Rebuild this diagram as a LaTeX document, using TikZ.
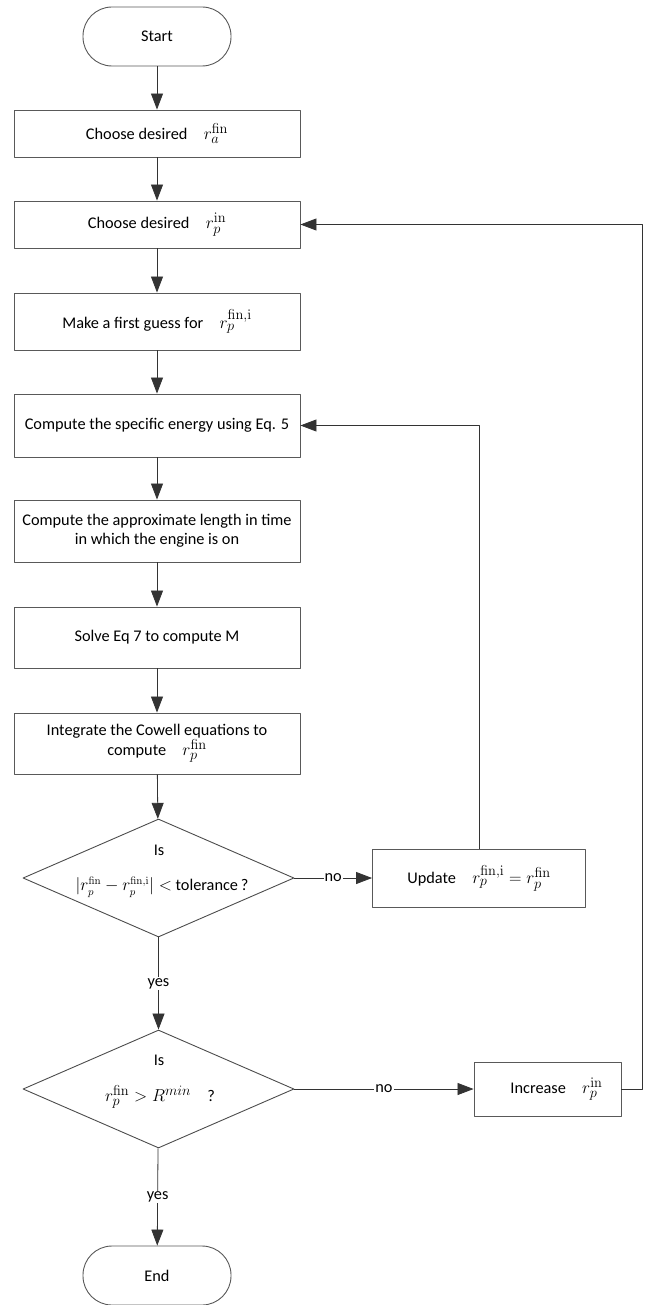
\documentclass[tikz,border=0pt]{standalone}
\usepackage[no-math]{fontspec}
\setmainfont{Carlito}
\usetikzlibrary{arrows.meta,shapes.geometric}
\newcommand\mth[2][19]{{\fontsize{#1}{#1}\selectfont$#2$}}

\begin{document}
\begin{tikzpicture}[x=1pt, y=-1pt, font=\fontsize{16.3}{19}\selectfont, line join=round, >={Triangle[length=16pt,width=12pt]},
 box/.style={draw=black!65, line width=0.9pt, minimum width=286pt, align=center, inner sep=2pt},
 term/.style={draw=black!65, line width=0.9pt, rounded corners=29pt, minimum width=148pt, minimum height=59pt},
 decision/.style={draw=black!70, line width=0.9pt, diamond, minimum width=271pt, minimum height=118pt, inner sep=0pt},
 flow/.style={->, draw=black!80, line width=0.8pt},
 lab/.style={fill=white, inner sep=1pt}]
 \def\cx{157}
 \useasboundingbox (0,0) rectangle (645,1305);
 % main column
 \node[term] (start) at (\cx,36.5) {Start};
 \node[box, minimum height=47pt] (ra) at (\cx,133.5) {Choose desired\quad\mth{r_a^{\mathrm{fin}}}};
 \node[box, minimum height=47pt] (rp) at (\cx,224.5) {Choose desired\quad\mth{r_p^{\mathrm{in}}}};
 \node[box, minimum height=57pt] (guess) at (\cx,321.5) {Make a first guess for\quad\mth{r_p^{\mathrm{fin,i}}}};
 \node[box, minimum height=63pt] (energy) at (\cx,425.5) {Compute the specific energy using Eq. 5};
 \node[box, minimum height=62pt] (burn) at (\cx,531) {Compute the approximate length in time\\in which the engine is on};
 \node[box, minimum height=61pt] (mass) at (\cx,637.5) {Solve Eq 7 to compute M};
 \node[box, minimum height=61pt] (cowell) at (\cx,743.5) {Integrate the Cowell equations to\\compute\quad\mth{r_p^{\mathrm{fin}}}};
 \node[decision] (check) at (158.5,878) {};
 \node (checkis) at (159,850) {Is};
 \node (checktxt) at (162,887) {\mth[16]{|r_p^{\mathrm{fin}} - r_p^{\mathrm{fin,i}}| <} tolerance\,?};
 \node[decision] (limit) at (158.5,1089) {};
 \node (limitis) at (159,1060) {Is};
 \node (limittxt) at (160,1097) {\mth{r_p^{\mathrm{fin}} > R^{min}}\quad ?};
 \node[term] (end) at (\cx,1275.5) {End};
 % side boxes
 \node[box, minimum width=213pt, minimum height=58pt] (update) at (479,878) {Update\quad\mth{r_p^{\mathrm{fin,i}} = r_p^{\mathrm{fin}}}};
 \node[box, minimum width=147pt, minimum height=54pt] (increase) at (547.5,1089) {\hspace*{18pt}Increase\quad\mth{r_p^{\mathrm{in}}}};
 \coordinate (back) at (642,1089);

 \foreach \a/\b in {start/ra, ra/rp, rp/guess, guess/energy, energy/burn, burn/mass, mass/cowell, cowell/check}
  \draw[flow] (\a) -- (\b);
 \draw[flow] (check) -- node[lab]{no} (update);
 \draw[flow] (check) -- node[lab]{yes} (limit);
 \draw[flow] (limit) -- node[lab]{no} (increase);
 \draw[flow] (limit) -- node[lab]{yes} (end);
 % loops back
 \draw[flow] (update.north) |- (energy.east);
 \draw[flow] (increase.east) -- (back) |- (rp.east);
\end{tikzpicture}
\end{document}
